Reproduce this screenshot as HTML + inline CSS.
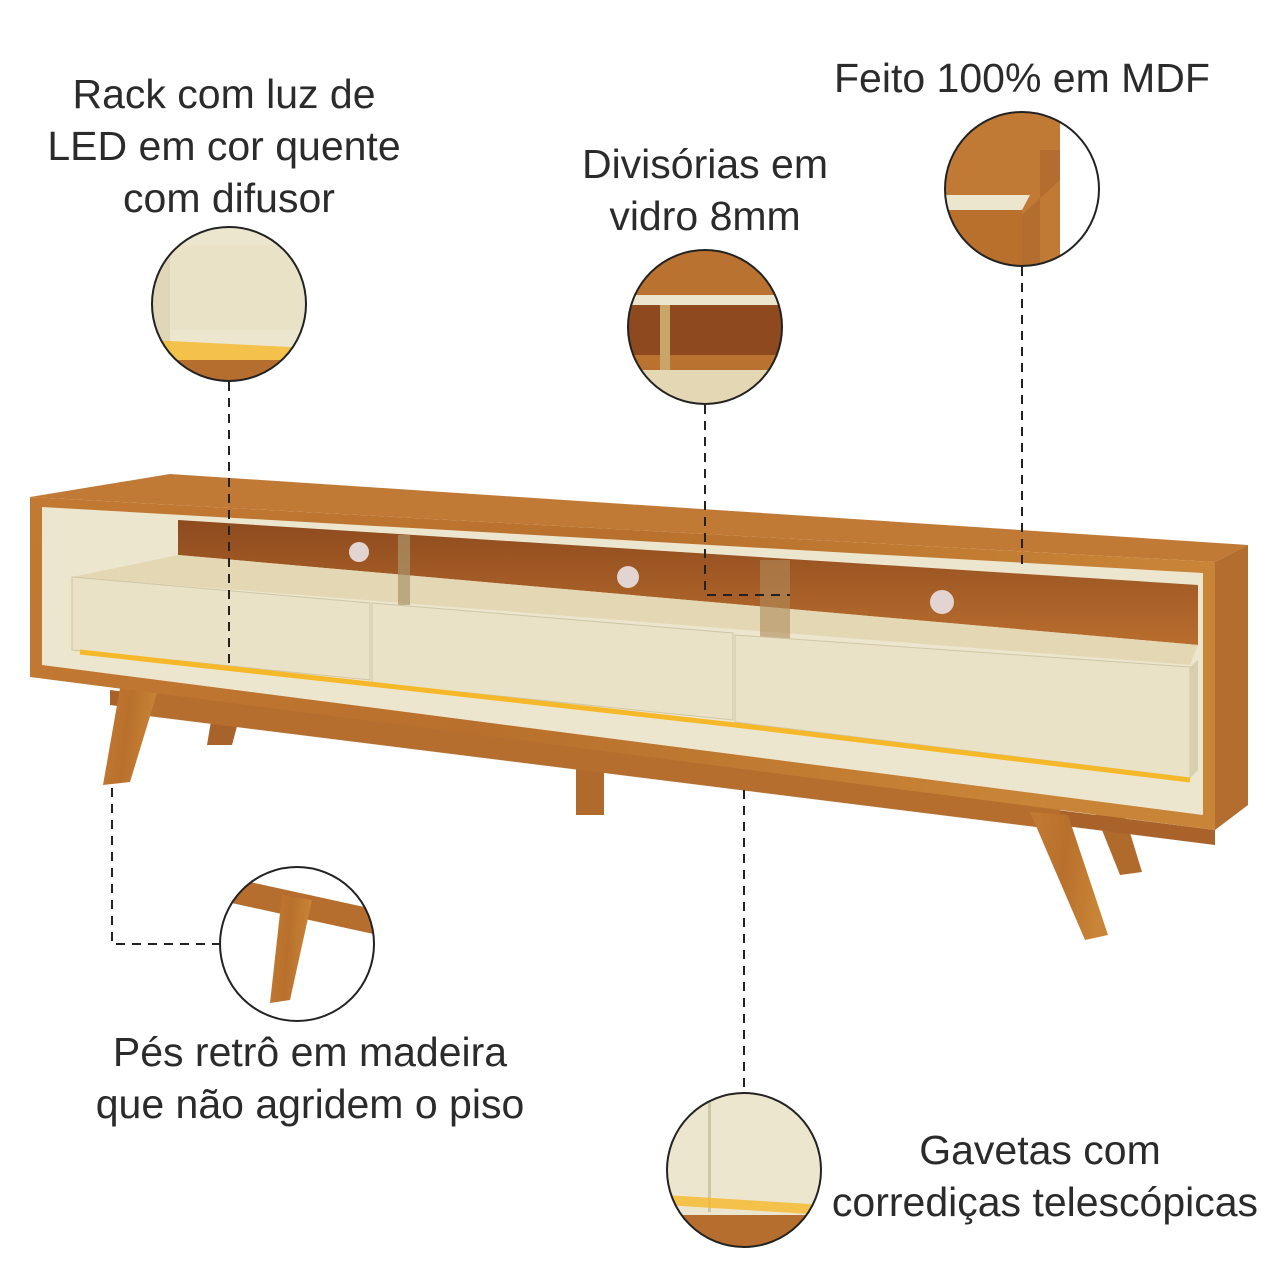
<!DOCTYPE html>
<html><head><meta charset="utf-8"><style>
html,body{margin:0;padding:0;background:#fff;}
svg{display:block}
text{font-family:"Liberation Sans","DejaVu Sans",sans-serif;fill:#2b2b2b;font-size:41px;text-anchor:middle}
</style></head><body>
<svg width="1280" height="1280" viewBox="0 0 1280 1280">
<defs>
<linearGradient id="wood" x1="0" y1="0" x2="1" y2="0.2">
<stop offset="0" stop-color="#c27a33"/><stop offset="0.5" stop-color="#b8702c"/><stop offset="1" stop-color="#c98537"/></linearGradient>
<linearGradient id="back" x1="0" y1="0" x2="0" y2="1">
<stop offset="0" stop-color="#8e4a1e"/><stop offset="1" stop-color="#b96e2e"/></linearGradient>
<clipPath id="c1"><circle cx="229" cy="304" r="77"/></clipPath>
<clipPath id="c2"><circle cx="705" cy="327" r="77"/></clipPath>
<clipPath id="c3"><circle cx="1022" cy="189" r="77"/></clipPath>
<clipPath id="c4"><circle cx="297" cy="944" r="77"/></clipPath>
<clipPath id="c5"><circle cx="744" cy="1170" r="77"/></clipPath>
</defs>

<text x="224" y="108">Rack com luz de</text>
<text x="224" y="160">LED em cor quente</text>
<text x="229" y="212">com difusor</text>
<text x="705" y="178">Divisórias em</text>
<text x="705" y="230">vidro 8mm</text>
<text x="1022" y="92">Feito 100% em MDF</text>
<text x="310" y="1066">Pés retrô em madeira</text>
<text x="310" y="1118">que não agridem o piso</text>
<text x="1040" y="1164">Gavetas com</text>
<text x="1045" y="1216">corrediças telescópicas</text>

<polygon points="212,715 240,715 232,745 207,745" fill="#a8632a"/>
<polygon points="576,760 604,760 604,815 576,815" fill="#b06a2c"/>
<polygon points="1090,800 1120,800 1142,872 1120,875" fill="#b06a2c"/>
<polygon points="110,690 1215,830 1215,845 110,705" fill="#a9622a"/>
<polygon points="140,690 1060,805 1060,830 140,715" fill="#b56e2e"/>
<polygon points="120,688 158,690 130,782 103,785" fill="url(#wood)"/>
<polygon points="1030,812 1068,815 1108,935 1085,940" fill="url(#wood)"/>

<polygon points="30,497 170,474 1248,545 1215,562" fill="#c07a36"/>
<polygon points="1215,562 1248,545 1248,805 1215,830" fill="#b36d2e"/>
<polygon points="30,497 1215,562 1215,830 30,677" fill="url(#wood)"/>
<polygon points="42,507 1203,573 1203,815 42,665" fill="#ede6cf"/>
<polygon points="178,520 1198,585 1198,645 178,555" fill="url(#back)"/>
<polygon points="72,577 178,555 1198,645 1190,665" fill="#e4d8b4"/>
<polygon points="398,535 410,535 410,605 398,605" fill="#a9946a" opacity="0.7"/>
<polygon points="760,560 790,560 790,640 760,640" fill="#b08a5a" opacity="0.6"/>
<circle cx="359" cy="552" r="10" fill="#e2d4d0"/>
<circle cx="628" cy="577" r="11" fill="#e2d4d0"/>
<circle cx="942" cy="602" r="12" fill="#e2d4d0"/>
<polygon points="72,577 370,603 370,680 72,650" fill="#e9e2c6" stroke="#cfc6a6"/>
<polygon points="372,603 733,633 733,720 372,683" fill="#e9e2c6" stroke="#cfc6a6"/>
<polygon points="735,635 1190,667 1190,778 735,722" fill="#e9e2c6" stroke="#cfc6a6"/>
<polygon points="1190,667 1198,660 1198,770 1190,778" fill="#d8cfae"/>
<polyline points="80,652 370,684 735,725 1190,780" stroke="#f5b829" stroke-width="5" fill="none"/>

<g clip-path="url(#c1)">
<rect x="150" y="225" width="160" height="160" fill="#ede6cf"/>
<rect x="150" y="225" width="20" height="160" fill="#e0d7b8"/>
<rect x="170" y="245" width="140" height="85" fill="#e9e2c6"/>
<polygon points="150,340 310,348 310,365 150,360" fill="#f5b829" opacity="0.8"/>
<rect x="150" y="360" width="160" height="30" fill="#b56e2e"/>
</g>
<circle cx="229" cy="304" r="77" fill="none" stroke="#222" stroke-width="2"/>

<g clip-path="url(#c2)">
<rect x="625" y="248" width="160" height="160" fill="#b9722f"/>
<rect x="625" y="295" width="160" height="10" fill="#ede6cf"/>
<rect x="625" y="305" width="160" height="50" fill="#8e4a1e"/>
<polygon points="660,305 670,305 670,390 660,390" fill="#c9a56a"/>
<rect x="625" y="370" width="160" height="40" fill="#e4d8b4"/>
</g>
<circle cx="705" cy="327" r="77" fill="none" stroke="#222" stroke-width="2"/>

<g clip-path="url(#c3)">
<rect x="944" y="110" width="160" height="160" fill="#ffffff"/>
<polygon points="944,110 1060,110 1060,270 944,270" fill="#c07a36"/>
<polygon points="1040,150 1060,150 1060,180 1022,215 1022,270 1040,270" fill="#b36d2e"/>
<polygon points="944,195 1030,195 1022,210 944,210" fill="#ede6cf"/>
<rect x="944" y="210" width="78" height="60" fill="#b8702c"/>
</g>
<circle cx="1022" cy="189" r="77" fill="none" stroke="#222" stroke-width="2"/>

<g clip-path="url(#c4)">
<rect x="218" y="866" width="160" height="160" fill="#fff"/>
<polygon points="218,875 378,910 378,935 218,900" fill="#b56e2e"/>
<polygon points="282,895 312,900 290,1000 270,1003" fill="url(#wood)"/>
</g>
<circle cx="297" cy="944" r="77" fill="none" stroke="#222" stroke-width="2"/>

<g clip-path="url(#c5)">
<rect x="666" y="1092" width="160" height="160" fill="#ede6cf"/>
<rect x="708" y="1092" width="3" height="120" fill="#cfc6a6"/>
<polygon points="666,1195 826,1205 826,1215 666,1205" fill="#f5b829" opacity="0.8"/>
<rect x="666" y="1215" width="160" height="40" fill="#b56e2e"/>
</g>
<circle cx="744" cy="1170" r="77" fill="none" stroke="#222" stroke-width="2"/>

<g stroke="#222" stroke-width="2" stroke-dasharray="9,7" fill="none">
<line x1="229" y1="382" x2="229" y2="670"/>
<polyline points="705,405 705,595 790,595"/>
<line x1="1022" y1="267" x2="1022" y2="565"/>
<polyline points="112,788 112,944 220,944"/>
<line x1="744" y1="790" x2="744" y2="1092"/>
</g>
</svg>
</body></html>
